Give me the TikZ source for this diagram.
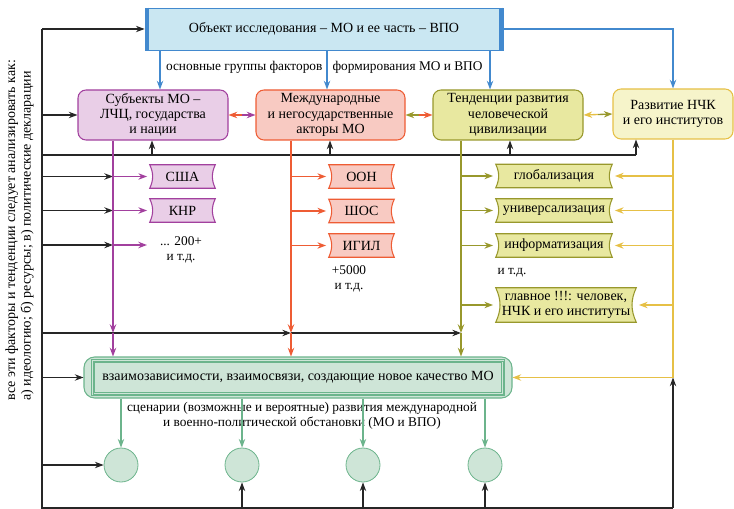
\documentclass[tikz,border=0pt]{standalone}
\usepackage{fontspec}
\setmainfont{Liberation Serif}
\usetikzlibrary{arrows.meta,positioning,calc,backgrounds}
\definecolor{objfill}{RGB}{202,231,242}
\definecolor{objline}{RGB}{66,137,206}
\definecolor{subj}{RGB}{162,64,158}
\definecolor{subjfill}{RGB}{233,206,231}
\definecolor{intl}{RGB}{238,92,52}
\definecolor{intlfill}{RGB}{248,202,194}
\definecolor{tend}{RGB}{152,152,44}
\definecolor{tendfill}{RGB}{232,232,160}
\definecolor{nchk}{RGB}{230,192,70}
\definecolor{nchkfill}{RGB}{246,244,202}
\definecolor{grn}{RGB}{108,180,140}
\definecolor{grnfill}{RGB}{206,229,215}

\begin{document}
\begin{tikzpicture}[x=0.75pt,y=-0.75pt,
    every node/.style={font=\fontsize{10.5}{11.5}\selectfont, inner sep=1pt},
    lbl/.style={font=\fontsize{10}{11.5}\selectfont},
    ln/.style={line width=0.8pt, black!85},
    blk/.style={ln, -{Stealth[length=6.5pt,width=4.8pt]}},
    arr/.style={-{Stealth[length=6.5pt,width=4.8pt]}, line width=1pt, draw=#1},
    mainbox/.style={draw=#1, fill=#1fill, rounded corners=6pt, line width=0.8pt, align=center, minimum height=37.5pt},
    tag/.style={align=center, minimum height=17.25pt, minimum width=48.75pt},
  ]
    \useasboundingbox (0,0) rectangle (734,509);
    % Object of study
    \node[draw=objline, fill=objfill, line width=0.6pt, minimum width=268.5pt, minimum height=31.5pt] (obj) at (324,29) {Объект исследования – МО и ее часть – ВПО};
    \draw[objline, line width=3pt] ([xshift=1.5pt]obj.north west) -- ([xshift=1.5pt]obj.south west);
    \draw[objline, line width=3pt] ([xshift=-1.5pt]obj.north east) -- ([xshift=-1.5pt]obj.south east);
    \node[lbl, anchor=east] (lbl1) at (324,67) {основные группы факторов};
    \node[lbl, anchor=west] (lbl2) at (331,67) {формирования МО и ВПО};
    % Factor groups
    \node[mainbox=subj, minimum width=112.5pt] (subj) at (153,115) {Субъекты МО –\\ЛЧЦ, государства\\и нации};
    \node[mainbox=intl, minimum width=111.75pt] (intl) at (330.5,115) {Международные\\и негосударственные\\акторы МО};
    \node[mainbox=tend, minimum width=112.5pt] (tend) at (508,115) {Тенденции развития\\человеческой\\цивилизации};
    \node[mainbox=nchk, minimum width=90pt] (nchk) at (673,114) {Развитие НЧК\\и его институтов};
    % Examples
    \node[tag] (usa) at (182.5,176.5) {США};
    \node[tag] (knr) at (182.5,210.5) {КНР};
    \node[lbl, align=center] (more1) at (181,250) {... 200+\\и т.д.};
    \node[tag] (oon) at (361.5,176.5) {ООН};
    \node[tag] (shos) at (361.5,211) {ШОС};
    \node[tag] (igil) at (361.5,245.5) {ИГИЛ};
    \node[lbl, align=center] (more2) at (349,279) {+5000\\и т.д.};
    \node[tag, minimum width=87pt] (glob) at (554,176) {глобализация};
    \node[tag, minimum width=87pt] (univ) at (554,210.5) {универсализация};
    \node[tag, minimum width=87pt] (inf) at (554,245.5) {информатизация};
    \node[lbl] (more3) at (512,273) {и т.д.};
    \node[tag, minimum width=105pt, minimum height=25.5pt] (main) at (566,305) {главное !!!: человек,\\НЧК и его институты};
    \begin{scope}[on background layer]
      \foreach \n/\col in {usa/subj,knr/subj,oon/intl,shos/intl,igil/intl,glob/tend,univ/tend,inf/tend,main/tend}
        \filldraw[draw=\col, fill=\col fill, line width=0.8pt] (\n.north west) to[bend left=25] (\n.south west) -- (\n.south east) to[bend left=25] (\n.north east) -- cycle;
    \end{scope}
    % Interdependence and scenarios
    \node[draw=grn, fill=grnfill, rounded corners=8pt, line width=0.8pt, minimum width=321pt, minimum height=30.75pt] (inter) at (298,377.5) {взаимозависимости, взаимосвязи, создающие новое качество МО};
    \foreach \d in {0,1.5,3}
      \draw[grn, line width=0.4pt] ($(inter.north west)+(8+\d,3+\d)$) rectangle ($(inter.south east)-(8+\d,3+\d)$);
    \node[lbl, align=center] (scen) at (302,415.5) {сценарии (возможные и вероятные) развития международной\\и военно-политической обстановки (МО и ВПО)};
    \foreach \i/\x in {1/121,2/242,3/363,4/485}
      \node[circle, draw=grn, fill=grnfill, line width=0.6pt, minimum size=25.5pt, inner sep=0pt] (sc\i) at (\x,465) {};
    \node[rotate=90, anchor=west, align=left] (note) at (19.5,402) {все эти факторы и тенденции следует анализировать как:\\а) идеологию; б) ресурсы; в) политические декларации};
    % Blue links
    \foreach \x/\n in {160/subj,327/intl,490/tend}
      \draw[arr=objline] (obj.south -| \x,0) -- (\n.north -| \x,0);
    \draw[arr=objline] (obj.east) -| (nchk.north);
    % Mutual links
    \coordinate (m1) at ($(subj.east)!0.5!(intl.west)$);
    \coordinate (m2) at ($(intl.east)!0.5!(tend.west)$);
    \coordinate (m3) at ($(tend.east)!0.5!(nchk.west)$);
    \draw[arr=intl] (m1) -- (subj.east);
    \draw[arr=subj] (m1) -- (intl.west);
    \draw[arr=tend] (m2) -- (intl.east);
    \draw[arr=intl] (m2) -- (tend.west);
    \draw[arr=nchk] (m3) -- (tend.east);
    \draw[arr=tend] (m3) -- (nchk.west);
    % Spine and buses
    \coordinate (sptop) at (obj.west -| 42,0);
    \coordinate (spbot) at (42,508);
    \coordinate (botend) at (nchk.south |- spbot);
    \draw[ln] (sptop) -- (spbot) -- (botend);
    \draw[blk] (sptop) -- (obj.west);
    \draw[blk] (subj.west -| spbot) -- (subj.west);
    \draw[ln] (42,155) -- (636,155);
    \foreach \x/\n in {152/subj,330/intl,510/tend,636/nchk}
      \draw[blk] (\x,155) -- (\n.south -| \x,0);
    \foreach \y in {176.5,210.5,245}
      \draw[blk] (42,\y) -- (113,\y);
    \draw[blk] (42,333) -- (291,333);
    \draw[blk] (291,333) -- (461,333);
    \draw[blk] (inter.west -| spbot) -- (inter.west);
    \draw[blk] (sc1.west -| spbot) -- (sc1.west);
    \foreach \i in {2,3,4}
      \draw[blk] (sc\i |- spbot) -- (sc\i.south);
    \draw[blk] (botend) -- (nchk.south |- inter.east);
    % Coloured verticals
    \draw[arr=subj] (subj.south -| 113,0) -- (113,333);
    \draw[arr=subj] (113,333) -- (inter.north -| 113,0);
    \draw[arr=intl] (intl.south -| 291,0) -- (291,333);
    \draw[arr=intl] (291,333) -- (inter.north -| 291,0);
    \draw[arr=tend] (tend.south -| 461,0) -- (461,333);
    \draw[arr=tend] (461,333) -- (inter.north -| 461,0);
    \draw[arr=nchk] (nchk.south) |- (inter.east);
    % Branches
    \foreach \n in {usa,knr}
      \draw[arr=subj] (\n.west -| 113,0) -- ([xshift=-2pt]\n.west);
    \draw[arr=subj] (113,245) -- (147,245);
    \foreach \n in {oon,shos,igil}
      \draw[arr=intl] (\n.west -| 291,0) -- ([xshift=-2pt]\n.west);
    \foreach \n in {glob,univ,inf,main} {
      \draw[arr=tend] (\n.west -| 461,0) -- ([xshift=-2pt]\n.west);
      \draw[arr=nchk] (\n.east -| nchk.south) -- ([xshift=2pt]\n.east);
    }
    \foreach \i in {1,...,4}
      \draw[arr=grn] (inter.south -| sc\i) -- (sc\i.north);
\end{tikzpicture}
\end{document}
